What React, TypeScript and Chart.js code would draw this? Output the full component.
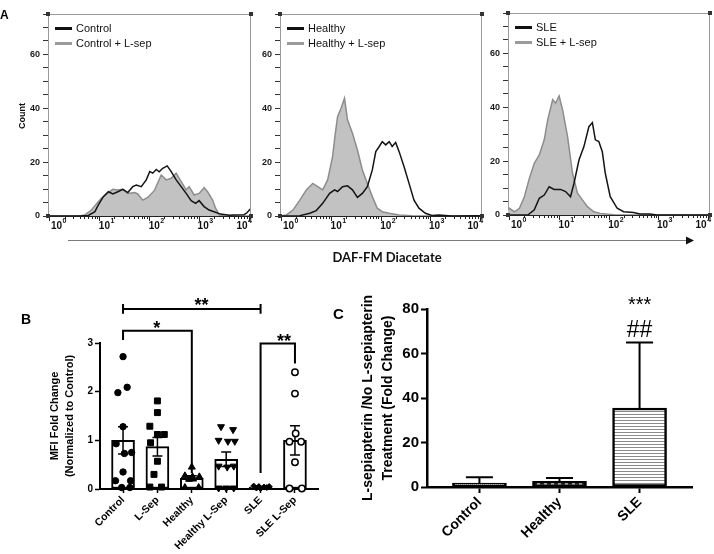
import React, { useEffect, useRef } from 'react';
import { Chart, registerables } from 'chart.js';

Chart.register(...registerables);

const FONT = '"Liberation Sans", Arial, sans-serif';
const PAGE_W = 714;
const PAGE_H = 554;

// ---------------- Panel A : DAF-FM histograms (x = log10 decade, y = count)
const decadeTicks = [0, 1, 2, 3, 4];

const ctrlX = [-0.03, 0.6, 0.78, 0.91, 0.98, 1.08, 1.18, 1.27, 1.37, 1.47, 1.57, 1.67, 1.74, 1.84, 1.94, 2.01, 2.07, 2.14, 2.2, 2.27, 2.36, 2.44, 2.54, 2.64, 2.74, 2.84, 2.93, 3.0, 3.1, 3.2, 3.3, 3.43, 3.6, 3.7, 3.9, 3.96, 4.02, 4.04];
const ctrlY = [0, 0, 0.2, 1.6, 4.1, 7.2, 9.0, 8.2, 9.0, 9.9, 8.7, 10.9, 11.5, 10.9, 13.4, 16.5, 15.9, 17.3, 16.4, 17.7, 18.6, 16.5, 13.4, 10.9, 8.4, 5.7, 4.7, 5.7, 3.5, 2.2, 1.6, 0.7, 0.3, 0.4, 0.5, 1.2, 2.5, 2.8];
const ctrlSepX = [-0.03, 0.55, 0.65, 0.71, 0.84, 0.94, 1.04, 1.18, 1.27, 1.37, 1.47, 1.57, 1.71, 1.77, 1.87, 1.97, 2.1, 2.24, 2.34, 2.44, 2.54, 2.64, 2.74, 2.8, 2.9, 3.0, 3.1, 3.17, 3.27, 3.33, 3.4, 3.5, 4.04];
const ctrlSepY = [0, 0, 0.2, 0.4, 2.2, 4.5, 6.6, 8.7, 9.9, 9.7, 9.9, 8.4, 8.7, 8.2, 5.9, 6.9, 9.4, 15.2, 13.4, 14.0, 15.9, 12.8, 9.7, 10.9, 7.8, 8.4, 10.5, 9.0, 5.9, 2.9, 0.4, 0, 0];

const healthyX = [-0.02, 0.37, 0.57, 0.7, 0.83, 0.97, 1.07, 1.13, 1.23, 1.33, 1.43, 1.53, 1.63, 1.73, 1.83, 1.9, 1.97, 2.03, 2.1, 2.17, 2.23, 2.3, 2.37, 2.47, 2.57, 2.67, 2.77, 2.9, 3.03, 3.17, 3.43, 3.97, 4.04];
const healthyY = [0, 0.1, 1.0, 2.0, 4.7, 8.4, 9.7, 9.1, 10.9, 11.2, 9.7, 6.9, 8.4, 10.9, 17.1, 23.9, 25.8, 27.6, 26.4, 27.6, 25.8, 27.3, 23.9, 18.3, 12.1, 5.9, 2.9, 1.0, 0.2, 0.4, 0, 0.1, 0];
const healthySepX = [-0.02, 0.1, 0.23, 0.37, 0.5, 0.63, 0.73, 0.83, 0.93, 1.03, 1.08, 1.13, 1.2, 1.27, 1.33, 1.43, 1.53, 1.63, 1.73, 1.83, 1.93, 2.03, 2.17, 2.37, 2.63, 4.04];
const healthySepY = [0, 0.4, 2.2, 5.9, 9.7, 12.1, 10.9, 9.7, 13.4, 22.1, 30, 36.9, 40.0, 43.7, 35.7, 30.7, 24.5, 17.1, 12.1, 7.2, 2.9, 1.6, 1.0, 0.4, 0.1, 0];

const sleX = [-0.03, 0.37, 0.5, 0.6, 0.7, 0.8, 0.9, 1.03, 1.13, 1.23, 1.3, 1.4, 1.5, 1.6, 1.67, 1.73, 1.8, 1.87, 1.93, 2.03, 2.17, 2.3, 2.5, 2.63, 2.83, 2.97, 4.04];
const sleY = [0, 0, 1.9, 6.2, 7.4, 10.5, 9.5, 9.5, 8.7, 6.8, 11.8, 20.4, 25.4, 32.8, 34.3, 27.9, 27.3, 23.5, 15.5, 6.8, 2.5, 1.2, 0.9, 0.4, 0.4, 0, 0];
const sleSepX = [-0.03, 0.0, 0.1, 0.2, 0.3, 0.4, 0.5, 0.6, 0.7, 0.77, 0.87, 0.93, 1.0, 1.07, 1.17, 1.27, 1.37, 1.47, 1.57, 1.7, 1.83, 2.1, 4.04];
const sleSepY = [2.0, 2.5, 1.2, 2.5, 6.8, 13.6, 19.2, 22.3, 27.9, 35.3, 42.8, 41.5, 44.2, 39.0, 29.1, 15.5, 8.1, 5.6, 3.1, 1.2, 0.6, 0.1, 0];

const legendA1 = ['Control', 'Control + L-sep'];
const legendA2 = ['Healthy', 'Healthy + L-sep'];
const legendA3 = ['SLE', 'SLE + L-sep'];

// ---------------- Panel B : MFI fold change
const bCats = ['Control', 'L-Sep', 'Healthy', 'Healthy L-Sep', 'SLE', 'SLE L-Sep'];
const bMeans = [1.0, 0.87, 0.22, 0.61, 0.04, 1.0];
const bSem = [0.28, 0.19, 0.05, 0.15, 0.01, 0.3];
const bControl = [2.72, 2.09, 1.98, 1.28, 0.93, 0.75, 0.73, 0.35, 0.17, 0.17, 0.03, 0.03];
const bControlJit = [0, 0.12, -0.15, 0, -0.2, 0.25, 0.04, 0, -0.22, 0.22, -0.04, 0.2];
const bLSep = [1.81, 1.57, 1.29, 1.12, 1.12, 0.95, 0.57, 0.3, 0.04, 0.04];
const bLSepJit = [0, 0, -0.22, 0, 0.2, -0.2, 0, -0.1, -0.22, 0.12];
const bHealthy = [0.45, 0.27, 0.25, 0.25, 0.2, 0.03, 0.03];
const bHealthyJit = [0, -0.2, 0.02, 0.22, -0.08, -0.2, 0.2];
const bHealthySep = [1.28, 1.22, 1.0, 0.98, 0.98, 0.47, 0.45, 0.47, 0.02, 0.02, 0.02];
const bHealthySepJit = [-0.15, 0.2, -0.22, 0.05, 0.25, -0.22, 0.03, 0.22, -0.22, 0, 0.22];
const bSle = [0.06, 0.05, 0.04, 0.05, 0.02, 0.03, 0.01];
const bSleJit = [-0.2, -0.05, 0.1, 0.25, -0.12, 0.18, 0];
const bSleSep = [2.4, 1.96, 1.14, 0.97, 0.97, 0.55, 0.01, 0.01];
const bSleSepJit = [0, 0, 0.02, -0.16, 0.18, 0, -0.16, 0.2];

// ---------------- Panel C : fold change
const cCats = ['Control', 'Healthy', 'SLE'];
const cMeans = [1.8, 2.5, 35.5];
const cErr = [2.6, 1.5, 29.5];

const pts = (xs: number[], ys: number[]) => xs.map((x, i) => ({ x, y: ys[i] }));

const histDecor: any = {
  id: 'histDecor',
  afterDraw(chart: any, _a: any, opts: any) {
    const { ctx, chartArea: a } = chart;
    const xs = chart.scales.x;
    ctx.save();
    ctx.lineWidth = 1;
    ctx.strokeStyle = '#9a9a9a';
    ctx.beginPath();
    ctx.moveTo(a.left, a.top + 0.5);
    ctx.lineTo(a.right, a.top + 0.5);
    ctx.moveTo(a.right - 0.5, a.top);
    ctx.lineTo(a.right - 0.5, a.bottom);
    ctx.stroke();
    ctx.strokeStyle = '#222';
    ctx.beginPath();
    ctx.moveTo(a.left, a.bottom + 0.5);
    ctx.lineTo(a.right, a.bottom + 0.5);
    for (const n of decadeTicks) {
      for (let k = 1; k <= 9; k++) {
        const v = n + Math.log10(k);
        if (v < xs.min || v > xs.max) continue;
        const px = Math.round(xs.getPixelForValue(v)) + 0.5;
        ctx.moveTo(px, a.bottom);
        ctx.lineTo(px, a.bottom + (k === 1 ? 5 : 3));
      }
    }
    ctx.stroke();
    const shift = [9, 7, 7, 6, -5];
    ctx.fillStyle = '#111';
    ctx.textAlign = 'left';
    ctx.textBaseline = 'alphabetic';
    decadeTicks.forEach((n, i) => {
      const px = xs.getPixelForValue(n) + shift[i];
      ctx.font = `bold 10px ${FONT}`;
      const w1 = ctx.measureText('10').width;
      ctx.font = `bold 7px ${FONT}`;
      const w2 = ctx.measureText(String(n)).width;
      const left = px - (w1 + w2) / 2;
      ctx.font = `bold 10px ${FONT}`;
      ctx.fillText('10', left, a.bottom + 13);
      ctx.font = `bold 7px ${FONT}`;
      ctx.fillText(String(n), left + w1 + 0.5, a.bottom + 7);
    });
    ctx.fillStyle = '#333';
    [[a.left, a.top], [a.right, a.top], [a.left, a.bottom], [a.right, a.bottom]].forEach(([x, y]) => ctx.fillRect(x - 2, y - 2, 4, 4));
    // legend
    const ds = chart.data.datasets;
    const colors = ['#111', '#9a9a9a'];
    ctx.font = `11px ${FONT}`;
    ctx.textBaseline = 'middle';
    ds.forEach((d: any, i: number) => {
      const y = a.top + 14.5 + i * 15;
      ctx.strokeStyle = colors[i];
      ctx.lineWidth = 3;
      ctx.beginPath();
      ctx.moveTo(a.left + 7, y);
      ctx.lineTo(a.left + 24, y);
      ctx.stroke();
      ctx.fillStyle = '#111';
      ctx.fillText(d.label, a.left + 28, y);
    });
    if (opts && opts.showCount) {
      ctx.save();
      ctx.translate(a.left - 25, (a.top + a.bottom) / 2 + 1);
      ctx.rotate(-Math.PI / 2);
      ctx.font = `bold 9px ${FONT}`;
      ctx.textAlign = 'center';
      ctx.textBaseline = 'middle';
      ctx.fillStyle = '#111';
      ctx.fillText('Count', 0, 0);
      ctx.restore();
    }
    ctx.restore();
  },
};

const pageDecor: any = {
  id: 'pageDecor',
  afterDraw(chart: any) {
    const ctx = chart.ctx;
    ctx.save();
    ctx.fillStyle = '#000';
    ctx.textAlign = 'left';
    ctx.textBaseline = 'alphabetic';
    ctx.font = `bold 12px ${FONT}`;
    ctx.fillText('A', 0, 18.5);
    ctx.font = `bold 14px ${FONT}`;
    ctx.fillText('B', 21, 323.5);
    ctx.font = `bold 15px ${FONT}`;
    ctx.fillText('C', 333, 318.5);
    ctx.strokeStyle = '#7a7a7a';
    ctx.lineWidth = 1.2;
    ctx.beginPath();
    ctx.moveTo(68, 240.5);
    ctx.lineTo(688, 240.5);
    ctx.stroke();
    ctx.fillStyle = '#111';
    ctx.beginPath();
    ctx.moveTo(686, 236.5);
    ctx.lineTo(694, 240.5);
    ctx.lineTo(686, 244.5);
    ctx.closePath();
    ctx.fill();
    ctx.font = `bold 13px Lato, ${FONT}`;
    ctx.textAlign = 'center';
    ctx.textBaseline = 'middle';
    ctx.fillText('DAF-FM Diacetate', 387, 258);
    ctx.restore();
  },
};

function histChart(canvas: any, area: any, black: any[], gray: any[], legend: string[], showCount: boolean, extra: any[]) {
  return new Chart(canvas, {
    type: 'line',
    data: {
      datasets: [
        { label: legend[0], data: black, borderColor: '#141414', borderWidth: 1.5, pointRadius: 0, fill: false, order: 0 },
        { label: legend[1], data: gray, borderColor: '#8d8d8d', backgroundColor: '#c2c2c2', borderWidth: 1.5, pointRadius: 0, fill: 'origin', order: 1 },
      ],
    },
    options: {
      responsive: false,
      animation: false,
      events: [],
      layout: { padding: { left: area.l - 22, top: area.t, right: PAGE_W - area.r, bottom: PAGE_H - area.b } },
      plugins: { legend: { display: false }, tooltip: { enabled: false }, histDecor: { showCount } } as any,
      scales: {
        x: { type: 'linear', display: false, min: -0.03, max: 4.04 },
        y: {
          type: 'linear',
          min: 0,
          max: 75,
          afterFit: (s: any) => { s.width = 22; },
          border: { display: true, color: '#9a9a9a', width: 1 },
          grid: { display: true, drawOnChartArea: false, drawTicks: true, tickLength: 5, tickColor: '#333', tickWidth: 1 },
          ticks: {
            stepSize: 5,
            autoSkip: false,
            padding: 3,
            color: '#1a1a1a',
            font: { family: FONT, size: 9, weight: 'bold' },
            callback: (v: any) => (v % 20 === 0 ? String(v) : ''),
          },
        },
      },
    } as any,
    plugins: [histDecor, ...extra],
  });
}

const bDecor: any = {
  id: 'bDecor',
  afterDatasetDraw(chart: any, args: any) {
    if (args.index !== 0) return;
    const { ctx } = chart;
    const x = chart.scales.x, y = chart.scales.y;
    ctx.save();
    ctx.strokeStyle = '#000';
    ctx.lineWidth = 1.5;
    bMeans.forEach((m, i) => {
      const px = x.getPixelForValue(i);
      const top = y.getPixelForValue(m + bSem[i]);
      const bot = y.getPixelForValue(Math.max(0, m - bSem[i]));
      ctx.beginPath();
      ctx.moveTo(px, top); ctx.lineTo(px, bot);
      ctx.moveTo(px - 5, top); ctx.lineTo(px + 5, top);
      ctx.moveTo(px - 5, bot); ctx.lineTo(px + 5, bot);
      ctx.stroke();
    });
    ctx.restore();
  },
  afterDraw(chart: any) {
    const { ctx } = chart;
    const X = (v: number) => chart.scales.x.getPixelForValue(v);
    const Y = (v: number) => chart.scales.y.getPixelForValue(v);
    ctx.save();
    ctx.strokeStyle = '#000';
    ctx.lineWidth = 2;
    ctx.lineJoin = 'miter';
    ctx.beginPath();
    ctx.moveTo(X(0), Y(3.7)); ctx.lineTo(X(4), Y(3.7));
    ctx.moveTo(X(0), Y(3.6)); ctx.lineTo(X(0), Y(3.8));
    ctx.moveTo(X(4), Y(3.6)); ctx.lineTo(X(4), Y(3.8));
    ctx.stroke();
    ctx.beginPath();
    ctx.moveTo(X(0), Y(3.06)); ctx.lineTo(X(0), Y(3.25)); ctx.lineTo(X(2), Y(3.25)); ctx.lineTo(X(2), Y(0.33));
    ctx.stroke();
    ctx.beginPath();
    ctx.moveTo(X(4), Y(0.33)); ctx.lineTo(X(4), Y(2.99)); ctx.lineTo(X(5), Y(2.99)); ctx.lineTo(X(5), Y(2.58));
    ctx.stroke();
    ctx.fillStyle = '#000';
    ctx.font = `bold 18px ${FONT}`;
    ctx.textAlign = 'center';
    ctx.textBaseline = 'alphabetic';
    ctx.fillText('**', X(2.28), Y(3.7) + 2);
    ctx.fillText('*', X(0.98), Y(3.25) + 3);
    ctx.fillText('**', X(4.68), Y(2.99) + 4);
    ctx.restore();
  },
};

function panelB(canvas: any) {
  const groups = [
    { vals: bControl, jit: bControlJit, style: 'circle', r: 3.2, fill: '#000', rot: 0, bw: 1 },
    { vals: bLSep, jit: bLSepJit, style: 'rect', r: 4.2, fill: '#000', rot: 0, bw: 1 },
    { vals: bHealthy, jit: bHealthyJit, style: 'triangle', r: 4, fill: '#000', rot: 0, bw: 1 },
    { vals: bHealthySep, jit: bHealthySepJit, style: 'triangle', r: 4, fill: '#000', rot: 180, bw: 1 },
    { vals: bSle, jit: bSleJit, style: 'rectRot', r: 3, fill: '#000', rot: 0, bw: 1 },
    { vals: bSleSep, jit: bSleSepJit, style: 'circle', r: 3.2, fill: '#fff', rot: 0, bw: 1.5 },
  ];
  const area = { l: 100, t: 343, r: 318, b: 489 };
  return new Chart(canvas, {
    type: 'bar',
    data: {
      datasets: [
        {
          type: 'bar',
          data: bMeans.map((m, i) => ({ x: i, y: m })),
          backgroundColor: '#fff',
          borderColor: '#000',
          borderWidth: 2,
          borderSkipped: false,
          barThickness: 23,
          order: 10,
        } as any,
        ...groups.map((g, gi) => ({
          type: 'scatter',
          data: g.vals.map((v, j) => ({ x: gi + g.jit[j], y: v })),
          pointStyle: g.style,
          pointRotation: g.rot,
          pointRadius: g.r,
          backgroundColor: g.fill,
          borderColor: '#000',
          borderWidth: g.bw,
          clip: false,
          order: 0,
        } as any)),
      ],
    },
    options: {
      responsive: false,
      animation: false,
      events: [],
      layout: { padding: { left: area.l - 52.5, top: area.t, right: PAGE_W - area.r, bottom: PAGE_H - area.b - 60 } },
      plugins: { legend: { display: false }, tooltip: { enabled: false } },
      scales: {
        x: {
          type: 'linear',
          min: -0.67,
          max: 5.67,
          offset: false,
          afterBuildTicks: (s: any) => { s.ticks = bCats.map((_, i) => ({ value: i })); },
          afterFit: (s: any) => { s.height = 60; },
          border: { display: true, color: '#000', width: 2 },
          grid: { display: true, offset: false, drawOnChartArea: false, tickLength: 4, tickColor: '#000', tickWidth: 1.5 },
          ticks: {
            autoSkip: false,
            minRotation: 45,
            maxRotation: 45,
            padding: 1,
            color: '#000',
            font: { family: FONT, size: 10.5, weight: 'bold' },
            callback: (v: any) => bCats[Math.round(v)] ?? '',
          },
        },
        y: {
          type: 'linear',
          min: 0,
          max: 3,
          afterFit: (s: any) => { s.width = 52.5; },
          border: { display: true, color: '#000', width: 2 },
          grid: { display: true, drawOnChartArea: false, tickLength: 5, tickColor: '#000', tickWidth: 1.5 },
          ticks: { stepSize: 1, padding: 2, color: '#000', font: { family: FONT, size: 10, weight: 'bold' } },
          title: {
            display: true,
            text: ['MFI Fold Change', '(Normalized to Control)'],
            color: '#000',
            padding: 0,
            font: { family: FONT, size: 11, weight: 'bold', lineHeight: '15px' },
          },
        },
      },
    } as any,
    plugins: [bDecor],
  });
}

const cDecor: any = {
  id: 'cDecor',
  afterDatasetsDraw(chart: any) {
    const { ctx } = chart;
    const X = (v: number) => chart.scales.x.getPixelForValue(v);
    const Y = (v: number) => chart.scales.y.getPixelForValue(v);
    ctx.save();
    ctx.strokeStyle = '#000';
    ctx.lineWidth = 2;
    cMeans.forEach((m, i) => {
      const px = X(i);
      const top = Y(m + cErr[i]);
      ctx.beginPath();
      ctx.moveTo(px, Y(m));
      ctx.lineTo(px, top);
      ctx.moveTo(px - 13.5, top);
      ctx.lineTo(px + 13.5, top);
      ctx.stroke();
    });
    ctx.fillStyle = '#000';
    ctx.textAlign = 'center';
    ctx.textBaseline = 'alphabetic';
    ctx.font = `20px ${FONT}`;
    ctx.fillText('***', X(2), 311);
    ctx.font = `23px ${FONT}`;
    ctx.fillText('##', X(2), 337);
    ctx.restore();
  },
};

function makePattern(w: number, h: number, draw: (g: CanvasRenderingContext2D) => void) {
  const c = document.createElement('canvas');
  c.width = w;
  c.height = h;
  const g = c.getContext('2d') as CanvasRenderingContext2D;
  draw(g);
  return g.createPattern(c, 'repeat');
}

function panelC(canvas: any) {
  const dots = makePattern(2, 2, (g) => {
    g.fillStyle = '#d8d8d8'; g.fillRect(0, 0, 2, 2);
    g.fillStyle = '#666'; g.fillRect(0, 0, 1, 1); g.fillRect(1, 1, 1, 1);
  });
  const dashes = makePattern(7, 4, (g) => {
    g.fillStyle = '#fff'; g.fillRect(0, 0, 7, 4);
    g.fillStyle = '#000'; g.fillRect(1, 0, 4, 4);
  });
  const stripes = makePattern(6, 3, (g) => {
    g.fillStyle = '#fff'; g.fillRect(0, 0, 6, 3);
    g.fillStyle = '#8a8a8a'; g.fillRect(0, 0, 6, 1);
  });
  const area = { l: 427, t: 309, r: 692, b: 487 };
  return new Chart(canvas, {
    type: 'bar',
    data: {
      datasets: [
        {
          data: cMeans.map((m, i) => ({ x: i, y: m })),
          backgroundColor: [dots, dashes, stripes],
          borderColor: '#000',
          borderWidth: 2.5,
          borderSkipped: false,
          barThickness: 54,
        } as any,
      ],
    },
    options: {
      responsive: false,
      animation: false,
      events: [],
      layout: { padding: { left: area.l - 69, top: area.t, right: PAGE_W - area.r, bottom: PAGE_H - area.b - 60 } },
      plugins: { legend: { display: false }, tooltip: { enabled: false } },
      scales: {
        x: {
          type: 'linear',
          min: -0.655,
          max: 2.655,
          offset: false,
          afterBuildTicks: (s: any) => { s.ticks = cCats.map((_, i) => ({ value: i })); },
          afterFit: (s: any) => { s.height = 60; },
          border: { display: true, color: '#000', width: 2.5 },
          grid: { display: true, offset: false, drawOnChartArea: false, tickLength: 6, tickColor: '#000', tickWidth: 2 },
          ticks: {
            autoSkip: false,
            minRotation: 45,
            maxRotation: 45,
            padding: 1,
            color: '#000',
            font: { family: FONT, size: 14, weight: 'bold' },
            callback: (v: any) => cCats[Math.round(v)] ?? '',
          },
        },
        y: {
          type: 'linear',
          min: 0,
          max: 80,
          afterFit: (s: any) => { s.width = 69; },
          border: { display: true, color: '#000', width: 2.5 },
          grid: { display: true, drawOnChartArea: false, tickLength: 6, tickColor: '#000', tickWidth: 2 },
          ticks: { stepSize: 20, padding: 2, color: '#000', font: { family: FONT, size: 15, weight: 'bold' } },
          title: {
            display: true,
            text: ['L-sepiapterin /No L-sepiapterin', 'Treatment (Fold Change)'],
            color: '#000',
            padding: 0,
            font: { family: FONT, size: 14, weight: 'bold', lineHeight: '20px' },
          },
        },
      },
    } as any,
    plugins: [cDecor],
  });
}

export default function App() {
  const r1 = useRef<HTMLCanvasElement>(null);
  const r2 = useRef<HTMLCanvasElement>(null);
  const r3 = useRef<HTMLCanvasElement>(null);
  const r4 = useRef<HTMLCanvasElement>(null);
  const r5 = useRef<HTMLCanvasElement>(null);

  useEffect(() => {
    const charts = [
      histChart(r1.current, { l: 48, t: 14, r: 251, b: 216 }, pts(ctrlX, ctrlY), pts(ctrlSepX, ctrlSepY), legendA1, true, [pageDecor]),
      histChart(r2.current, { l: 280, t: 14, r: 482, b: 216 }, pts(healthyX, healthyY), pts(healthySepX, healthySepY), legendA2, false, []),
      histChart(r3.current, { l: 508, t: 13, r: 710, b: 215 }, pts(sleX, sleY), pts(sleSepX, sleSepY), legendA3, false, []),
      panelB(r4.current),
      panelC(r5.current),
    ];
    return () => charts.forEach((c) => c.destroy());
  }, []);

  const cs: React.CSSProperties = { position: 'absolute', left: 0, top: 0, width: PAGE_W, height: PAGE_H };
  return (
    <div style={{ position: 'absolute', left: 0, top: 0, width: PAGE_W, height: PAGE_H, background: '#fff', overflow: 'hidden' }}>
      <canvas ref={r1} width={PAGE_W} height={PAGE_H} style={cs} />
      <canvas ref={r2} width={PAGE_W} height={PAGE_H} style={cs} />
      <canvas ref={r3} width={PAGE_W} height={PAGE_H} style={cs} />
      <canvas ref={r4} width={PAGE_W} height={PAGE_H} style={cs} />
      <canvas ref={r5} width={PAGE_W} height={PAGE_H} style={cs} />
    </div>
  );
}
